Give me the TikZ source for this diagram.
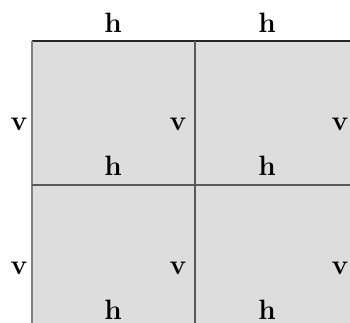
\documentclass[tikz,border=0pt]{standalone}
\usepackage{fontspec}
\begin{document}
\begin{tikzpicture}[x=1pt, y=-1pt,
    lbl/.style={font=\fontsize{28}{32}\selectfont\bfseries, inner sep=0pt}]
  \useasboundingbox (0,0) rectangle (350,323);
  \clip (0,0) rectangle (350,323);
  % Cells
  \fill[gray!27] (32,41) rectangle (358,329);
  \draw[line width=1.3pt, black!85] (32,41) -- (358,41);
  \draw[line width=1.3pt, gray] (32,41) -- (32,329);
  \draw[line width=1.1pt, black!65] (195,41) -- (195,329);
  \draw[line width=1.1pt, black!65] (32,185) -- (358,185);
  % Top labels
  \node[lbl] (htop-1) at (113,23) {h};
  \node[lbl] (htop-2) at (267,23) {h};
  % Row labels
  \foreach \r/\dy in {1/0,2/144}{
    \node[lbl] (vl-\r) at (19,124+\dy) {v};
    \node[lbl] (vm-\r) at (178,124+\dy) {v};
    \node[lbl] (vr-\r) at (340,124+\dy) {v};
    \node[lbl] (hl-\r) at (113,166+\dy) {h};
    \node[lbl] (hr-\r) at (267,166+\dy) {h};
  }
\end{tikzpicture}
\end{document}
